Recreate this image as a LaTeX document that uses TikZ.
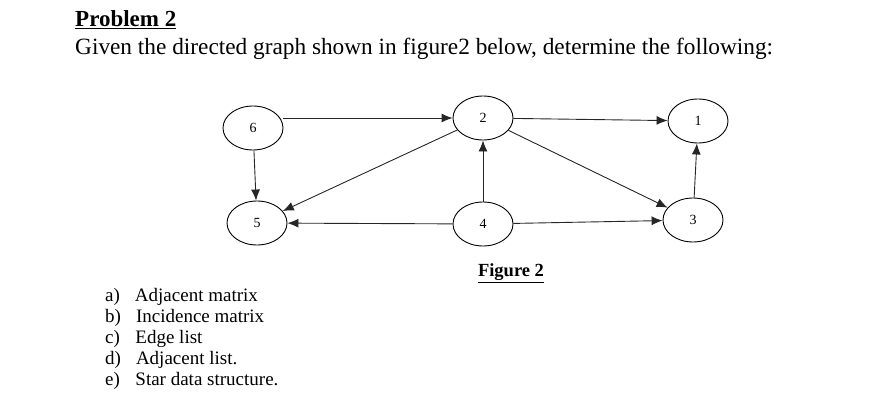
\documentclass[tikz,border=0pt]{standalone}
\usepackage{fontspec}
\setmainfont{Liberation Serif}
\usetikzlibrary{shapes.geometric,arrows.meta}
\begin{document}
\begin{tikzpicture}[x=1pt,y=-1pt,
 v/.style={draw,line width=0.9pt,ellipse,minimum width=60pt,minimum height=44pt,inner sep=0pt,font=\fontsize{14}{16}\selectfont},
 e/.style={-{Latex[length=11pt,width=9pt]},line width=0.9pt,gray!30!black},
 li/.style={anchor=west,font=\fontsize{19}{21}\selectfont,inner sep=0pt}]
\useasboundingbox (0,0) rectangle (885,404);
\node[anchor=west,inner sep=0pt,font=\fontsize{23}{26}\selectfont\bfseries] (t) at (75,20) {\underline{Problem 2}};
\node[anchor=west,inner sep=0pt,font=\fontsize{23.3}{26}\selectfont] (g) at (75,49) {Given the directed graph shown in figure2 below, determine the following:};
\node[v] (n6) at (253,128) {6};
\node[v] (n2) at (483,118) {2};
\node[v] (n1) at (698,121) {1};
\node[v] (n5) at (257,223) {5};
\node[v] (n4) at (483,224) {4};
\node[v] (n3) at (693,220) {3};
\draw[e] (n6.east|-n2) -- (n2);
\draw[e] (n2) -- (n1);
\draw[e] (n6) -- (n5);
\draw[e] (n2) -- (n5);
\draw[e] (n4) -- (n2);
\draw[e] (n2) -- (n3);
\draw[e] (n3) -- (n1);
\draw[e] (n4) -- (n5);
\draw[e] (n4) -- (n3);
\node[inner sep=0pt,font=\fontsize{18.5}{20}\selectfont\bfseries] (f) at (511,273) {\underline{Figure 2}};
\node[li] (a) at (105,297) {a)\hspace{15pt}Adjacent matrix};
\node[li] (b) at (105,318) {b)\hspace{15pt}Incidence matrix};
\node[li] (c) at (105,339) {c)\hspace{15.5pt}Edge list};
\node[li] (d) at (105,360) {d)\hspace{15pt}Adjacent list.};
\node[li] (ee) at (105,381) {e)\hspace{15.5pt}Star data structure.};
\end{tikzpicture}
\end{document}
